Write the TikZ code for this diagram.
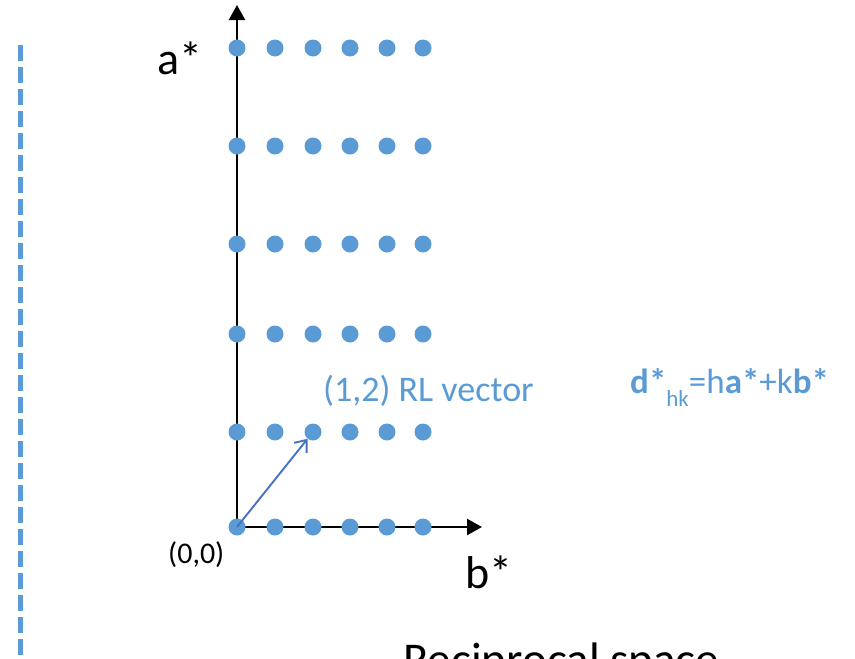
\documentclass[tikz,border=0pt]{standalone}
\usepackage{fontspec}
\setmainfont{Carlito}
\usetikzlibrary{arrows.meta}
\definecolor{dotblue}{HTML}{5B9BD5}
\definecolor{vecblue}{HTML}{4472C4}

\begin{document}
\begin{tikzpicture}[x=1pt,y=-1pt,
    lattice/.style={circle,fill=dotblue,inner sep=0pt,minimum size=17pt},
    axis/.style={line width=2.4pt,-{Triangle[length=15pt,width=16pt]}},
    rlvec/.style={vecblue,line width=1.9pt,-{Straight Barb[length=10pt,width=16pt]}},
    lbl/.style={inner sep=0pt,anchor=base west}]
    \useasboundingbox (0,0) rectangle (855,659);
    \clip (0,0) rectangle (855,659);

    % Dashed divider
    \draw[dotblue,line width=5pt,dash pattern=on 16pt off 6pt] (20,45) -- (20,665);

    % Axes
    \coordinate (origin) at (237,527);
    \coordinate (atip) at (237,5);
    \coordinate (btip) at (482,527);
    \draw[axis] (origin) -- (atip);
    \draw[axis] (origin) -- (btip);

    % Reciprocal lattice points
    \foreach \r/\y in {0/527,1/432,2/334,3/244,4/146,5/48} {
        \foreach \c/\x in {0/237,1/275,2/313,3/350,4/387,5/423} {
            \node[lattice] (p\r\c) at (\x,\y) {};
        }
    }

    % RL vector
    \draw[rlvec] (p00.center) -- (p12);

    % Labels
    \node[lbl] (astar) at (157,74) {\fontsize{46}{50}\selectfont a*};
    \node[lbl] (bstar) at (465,588) {\fontsize{46}{50}\selectfont b*};
    \node[lbl] (zero) at (168,563) {\fontsize{30}{34}\selectfont (0,0)};
    \node[lbl,text=dotblue] (veclbl) at (323,401) {\fontsize{36}{40}\selectfont (1,2) RL vector};
    \node[lbl,text=dotblue] (dhk) at (630,393) {\fontsize{35}{38}\selectfont
        \textbf{d*}\raisebox{-13pt}{\fontsize{23}{23}\selectfont hk}=h\textbf{a*}+k\textbf{b*}};
    \node[lbl] (title) at (403,675) {\fontsize{47}{50}\selectfont Reciprocal space};
\end{tikzpicture}
\end{document}
